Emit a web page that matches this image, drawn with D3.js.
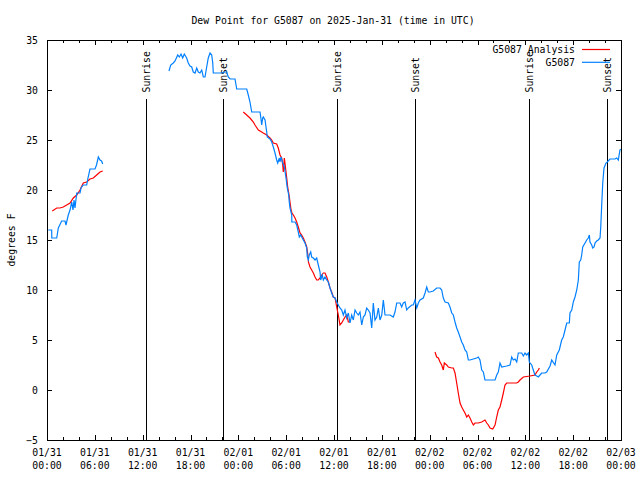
<!DOCTYPE html>
<html>
<head>
<meta charset="utf-8">
<script src="https://cdn.jsdelivr.net/npm/d3@7"></script>
<style>
  html, body { margin: 0; padding: 0; background: #fff; }
  svg text { font-family: "DejaVu Sans Mono", "Liberation Mono", monospace; font-size: 9.8px; fill: #000; }
</style>
</head>
<body>
<svg id="chart" width="640" height="480"></svg>
<script>
// ---- data (hours after 2025-01-31 00:00 UTC, dew point in °F) ----
const titleText = "Dew Point for G5087 on 2025-Jan-31 (time in UTC)";
const yLabelText = "degrees F";
const seriesNames = ["G5087 Analysis", "G5087"];

const obsHours = [
  0.16,0.59,0.60,1.22,1.42,1.84,2.26,2.38,2.67,2.89,3.10,3.26,3.39,3.51,3.73,4.14,4.27,4.55,4.98,5.14,5.39,6.02,6.21,6.44,6.65,6.84,6.99,
  11.0,
  15.30,15.52,15.84,16.06,16.40,16.60,16.81,17.02,17.22,17.52,17.72,17.94,18.15,18.35,18.57,18.78,18.98,19.19,19.41,19.61,19.82,20.03,20.23,20.45,20.66,20.79,20.86,21.92,22.20,22.54,22.74,22.96,23.58,23.80,25.05,25.25,25.46,25.68,26.72,26.81,26.93,27.06,27.13,27.35,27.47,27.56,27.63,27.97,28.19,28.39,28.60,28.81,28.94,29.14,29.23,29.35,29.57,29.77,29.98,30.14,30.32,30.39,30.48,30.70,30.71,31.11,31.32,31.52,31.65,31.82,31.95,32.15,32.36,32.58,32.65,32.78,32.90,33.08,33.20,33.41,33.62,33.83,34.03,34.25,34.33,34.53,34.66,34.87,35.09,35.29,35.50,35.71,35.91,36.13,36.34,36.54,36.75,36.97,37.17,37.38,37.59,37.80,38.01,38.22,38.42,38.64,38.85,39.05,39.26,39.48,39.68,39.89,40.10,40.30,40.52,40.73,40.93,41.14,41.36,41.56,41.77,41.99,42.19,42.40,43.03,43.44,43.65,43.87,44.28,44.49,44.69,44.91,45.12,45.32,45.75,45.95,46.16,46.38,46.58,46.79,47.20,47.42,47.63,47.83,48.04,48.46,48.88,49.30,49.51,49.71,49.93,50.34,50.55,50.77,50.97,51.18,51.39,51.59,51.81,52.02,52.22,52.43,52.65,52.85,53.06,53.48,53.90,54.10,54.31,54.53,54.73,54.94,56.20,56.41,56.61,56.82,57.04,57.66,58.08,58.29,58.49,58.71,58.92,59.12,59.55,59.75,59.96,60.17,60.38,60.50,60.80,61.00,61.21,61.43,61.63,61.84,62.05,62.47,62.68,63.10,63.31,63.72,63.94,64.26,64.35,64.56,64.76,64.98,65.19,65.52,65.60,65.82,66.02,66.23,66.45,66.65,66.77,66.95,67.07,67.20,67.49,67.70,67.90,68.03,68.11,68.33,68.45,68.62,68.74,68.95,69.15,69.37,69.46,69.58,69.71,69.87,70.12,70.28,70.62,71.25,71.46,71.66,71.87,71.96
];
const obsValues = [
  16.0,16.0,15.2,15.2,16.2,16.9,16.9,16.5,17.5,18.0,18.8,18.0,19.0,18.2,19.7,19.7,20.2,20.5,20.5,21.2,22.1,22.1,22.5,23.3,23.0,22.9,22.6,
  null,
  31.9,32.5,32.7,32.9,33.5,33.3,33.6,33.2,33.6,33.2,32.7,32.4,32.3,31.8,31.7,32.2,31.8,31.7,32.0,31.3,31.3,32.3,33.2,33.7,33.5,32.7,31.7,31.7,31.8,31.8,31.3,31.1,31.1,30.1,30.1,29.5,28.8,27.8,27.8,27.3,26.5,27.2,27.3,27.0,26.3,25.8,25.3,25.1,24.8,24.3,23.7,23.0,22.7,23.2,22.8,23.3,22.7,22.3,21.2,20.2,19.5,18.8,18.2,17.5,16.8,16.8,16.5,15.8,15.3,15.5,15.3,15.0,14.7,14.2,13.3,13.0,13.5,13.8,13.3,13.2,13.0,13.2,12.5,11.8,11.0,11.5,11.0,11.3,11.0,10.8,10.2,9.7,9.3,9.2,8.8,8.5,8.2,8.0,7.5,8.0,7.2,7.7,6.7,7.5,7.0,8.0,7.7,7.5,7.8,6.5,7.3,7.5,8.2,8.0,7.7,6.2,8.7,7.0,7.3,8.2,7.0,7.5,9.0,7.5,7.5,7.3,7.8,8.7,8.7,8.3,8.7,8.8,8.0,8.2,8.5,8.5,9.0,8.2,8.7,9.0,9.2,9.7,10.3,9.8,9.8,9.9,10.2,10.2,10.0,9.2,8.8,8.7,8.3,7.7,7.5,6.8,6.2,5.8,5.3,4.8,4.5,4.0,3.8,3.0,3.0,3.1,3.2,3.3,3.0,2.0,1.8,1.0,1.0,1.5,1.8,2.7,2.3,2.4,2.5,3.3,3.0,3.1,2.8,3.7,3.7,3.4,3.7,3.5,3.7,2.8,2.5,2.0,1.5,1.4,1.3,1.5,1.7,1.7,1.8,2.4,3.0,2.5,3.5,4.0,4.3,5.0,5.3,6.0,6.7,6.7,7.7,8.0,8.8,9.3,10.0,11.0,12.8,13.0,13.5,14.3,14.7,15.0,15.2,15.5,14.8,14.5,14.2,14.3,14.7,14.9,15.0,15.2,16.3,18.5,20.7,22.2,22.7,22.8,23.1,23.1,23.2,23.0,24.0,24.1
];

const anaHours = [
  0.66,1.22,1.63,2.04,2.47,2.89,3.30,3.73,4.14,4.55,4.98,5.39,5.81,6.23,6.65,6.99,
  15.0,
  24.62,25.05,25.46,25.88,26.09,26.51,26.93,27.13,27.56,27.97,28.19,28.39,28.81,29.01,29.23,29.44,29.57,29.64,29.77,29.85,29.98,30.07,30.19,30.36,30.48,30.61,30.73,30.90,31.11,31.32,31.52,31.74,31.95,32.15,32.36,32.58,32.78,32.79,32.99,33.20,33.41,33.62,33.83,34.03,34.25,34.46,34.66,34.87,35.09,35.29,35.50,35.71,35.91,36.13,36.34,36.54,36.75,36.97,37.17,37.38,37.59,37.80,38.01,
  43.0,
  48.67,48.88,49.09,49.30,49.51,49.71,49.84,50.14,50.34,50.77,50.97,51.18,51.39,51.59,51.81,52.02,52.22,52.43,52.65,52.85,53.06,53.28,53.48,53.69,54.10,54.53,54.94,55.16,55.36,55.57,55.91,56.20,56.41,56.61,56.82,57.04,57.24,57.45,57.66,58.92,59.12,59.33,59.75,60.59,61.21,61.43,61.63,61.76
];
const anaValues = [
  17.9,18.2,18.2,18.3,18.5,18.7,19.2,19.5,20.0,20.7,20.8,21.1,21.2,21.5,21.8,21.9,
  null,
  27.8,27.5,27.2,26.8,26.5,26.0,25.8,25.7,25.5,25.2,25.0,24.7,24.6,24.2,23.5,23.2,22.5,21.8,23.2,22.7,21.8,21.2,20.3,19.5,18.8,18.0,17.7,17.5,17.2,16.8,16.3,15.7,15.5,15.2,14.8,14.3,13.2,12.8,12.3,12.0,11.7,11.3,11.0,11.0,11.2,11.5,11.7,11.7,11.3,10.8,10.2,9.8,9.3,9.2,8.3,7.5,6.5,6.7,7.0,7.3,7.5,6.8,6.8,
  null,
  3.8,3.3,3.2,2.8,2.5,2.0,2.7,2.5,2.3,2.2,2.2,1.7,0.7,-0.3,-1.3,-1.7,-2.0,-2.3,-2.7,-2.5,-2.8,-3.2,-3.5,-3.3,-3.3,-3.2,-3.0,-3.3,-3.5,-3.8,-3.9,-3.5,-2.7,-2.0,-1.7,-1.0,-0.3,0.5,0.7,0.7,0.8,1.0,1.3,1.4,1.5,1.8,2.0,2.2
];

const sunriseHours = [12.5, 36.45, 60.48];
const sunsetHours = [22.12, 46.2, 70.28];
const yTicks = [-5, 0, 5, 10, 15, 20, 25, 30, 35];
const xMajorHours = [0, 6, 12, 18, 24, 30, 36, 42, 48, 54, 60, 66, 72];
const xMinorHours = d3.range(0, 73, 2);

// ---- layout ----
const W = 640, H = 480;
const m = { left: 47, right: 621, top: 40, bottom: 440 };
const base = Date.UTC(2025, 0, 31, 0, 0, 0);
const toDate = h => new Date(base + h * 3600e3);

const x = d3.scaleUtc().domain([toDate(0), toDate(72)]).range([m.left, m.right]);
const y = d3.scaleLinear().domain([-5, 35]).range([m.bottom, m.top]);

const svg = d3.select("#chart");
svg.append("rect").attr("width", W).attr("height", H).attr("fill", "#fff");

// title
svg.append("text").attr("x", 333).attr("y", 23.5).attr("text-anchor", "middle").text(titleText);

// y label
svg.append("text").attr("transform", "translate(15,240) rotate(-90)")
  .attr("text-anchor", "middle").text(yLabelText);

// axes ticks
const fmtD = d3.utcFormat("%m/%d"), fmtT = d3.utcFormat("%H:%M");
const gB = svg.append("g").attr("transform", `translate(0,${m.bottom})`)
  .call(d3.axisBottom(x).tickValues(xMajorHours.map(toDate)).tickSize(-5).tickFormat(""));
const gBm = svg.append("g").attr("transform", `translate(0,${m.bottom})`)
  .call(d3.axisBottom(x).tickValues(xMinorHours.map(toDate)).tickSize(-3).tickFormat(""));
const gT = svg.append("g").attr("transform", `translate(0,${m.top})`)
  .call(d3.axisTop(x).tickValues(xMajorHours.map(toDate)).tickSize(-5).tickFormat(""));
const gTm = svg.append("g").attr("transform", `translate(0,${m.top})`)
  .call(d3.axisTop(x).tickValues(xMinorHours.map(toDate)).tickSize(-3).tickFormat(""));
const gL = svg.append("g").attr("transform", `translate(${m.left},0)`)
  .call(d3.axisLeft(y).tickValues(yTicks).tickSize(-5).tickPadding(9).tickFormat(d3.format("d")));
const gR = svg.append("g").attr("transform", `translate(${m.right},0)`)
  .call(d3.axisRight(y).tickValues(yTicks).tickSize(-5).tickFormat(""));
[gB, gBm, gT, gTm, gL, gR].forEach(g => {
  g.select(".domain").remove();
  g.selectAll("line").attr("stroke", "#000").attr("shape-rendering", "crispEdges");
});
gL.selectAll("text").attr("font-family", null).attr("font-size", null).attr("dy", "0.4em");

// bottom tick labels (two lines)
const xl = svg.append("g");
xMajorHours.forEach(h => {
  const t = xl.append("text").attr("text-anchor", "middle");
  t.append("tspan").attr("x", x(toDate(h))).attr("y", 456).text(fmtD(toDate(h)));
  t.append("tspan").attr("x", x(toDate(h))).attr("y", 469).text(fmtT(toDate(h)));
});

// sunrise / sunset lines
const sun = [...sunriseHours.map(h => ({h, label: "Sunrise"})), ...sunsetHours.map(h => ({h, label: "Sunset"}))];
sun.forEach(s => {
  const px = x(toDate(s.h));
  svg.append("line").attr("x1", px).attr("x2", px).attr("y1", m.bottom).attr("y2", 99)
    .attr("stroke", "#000").attr("stroke-width", 1).attr("shape-rendering", "crispEdges");
  svg.append("text").attr("transform", `translate(${px + 3.5},92.5) rotate(-90)`)
    .attr("text-anchor", "start").text(s.label);
});

// data lines
const line = d3.line()
  .defined(d => d[1] !== null)
  .x(d => x(toDate(d[0])))
  .y(d => y(d[1]));

const anaData = anaHours.map((h, i) => [h, anaValues[i]]);
const obsData = obsHours.map((h, i) => [h, obsValues[i]]);

svg.append("path").datum(anaData).attr("d", line)
  .attr("fill", "none").attr("stroke", "#ff0000").attr("stroke-width", 1.2);
svg.append("path").datum(obsData).attr("d", line)
  .attr("fill", "none").attr("stroke", "#0080ff").attr("stroke-width", 1.2);

// border
svg.append("rect").attr("x", m.left).attr("y", m.top)
  .attr("width", m.right - m.left).attr("height", m.bottom - m.top)
  .attr("fill", "none").attr("stroke", "#000").attr("shape-rendering", "crispEdges");

// legend
const legColors = ["#ff0000", "#0080ff"];
seriesNames.forEach((name, i) => {
  const ly = 49.5 + i * 12.8;
  svg.append("text").attr("x", 575).attr("y", ly + 3.5).attr("text-anchor", "end").text(name);
  svg.append("line").attr("x1", 582).attr("x2", 610).attr("y1", ly).attr("y2", ly)
    .attr("stroke", legColors[i]).attr("stroke-width", 1.2);
});
</script>
</body>
</html>
